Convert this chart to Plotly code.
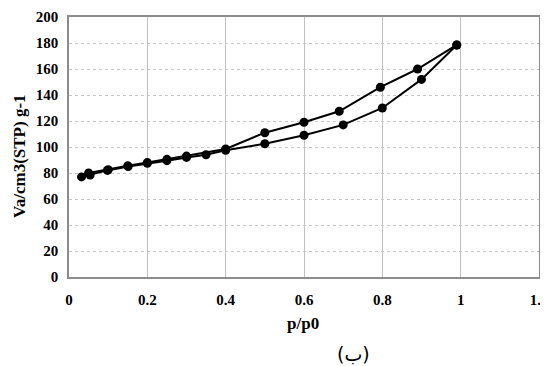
import plotly.graph_objects as go

ads_x = [0.032, 0.054, 0.098, 0.151, 0.2, 0.25, 0.3, 0.35, 0.4, 0.5, 0.6, 0.7, 0.8, 0.9, 0.99]
ads_y = [77, 78.5, 82, 85, 87.5, 89.5, 92, 94, 97.5, 102.5, 109, 117, 130, 152, 178.5]
des_x = [0.99, 0.89, 0.795, 0.69, 0.6, 0.5, 0.4, 0.3, 0.25, 0.2, 0.15, 0.1, 0.05]
des_y = [178.5, 160, 146, 127.5, 119, 111, 98.5, 93, 90.5, 88, 85.5, 82.5, 80]

x_ticks = [0, 0.2, 0.4, 0.6, 0.8, 1, 1.2]
x_tick_labels = ["0", "0.2", "0.4", "0.6", "0.8", "1", "1.2"]
y_ticks = [0, 20, 40, 60, 80, 100, 120, 140, 160, 180, 200]

font_fam = "Liberation Serif, Times New Roman, serif"

# page body has an 8px margin; figure occupies 540x358 starting at (8,8)
W, H = 540, 358
L, R, T, B = 61, 9, 9, 89
pw, ph = W - L - R, H - T - B

def px(xp):  # window pixel x -> paper x
    return (xp - 8 - L) / pw

def py(yp):  # window pixel y -> paper y
    return (H - B - (yp - 8)) / ph

fig = go.Figure()
for xs, ys in [(ads_x, ads_y), (des_x, des_y)]:
    fig.add_trace(go.Scatter(
        x=xs, y=ys, mode="lines+markers",
        line=dict(color="black", width=2),
        marker=dict(color="black", size=9, symbol="circle"),
        showlegend=False, cliponaxis=False))

tickfont = dict(family=font_fam, size=15, color="black", weight="bold")
fig.update_layout(
    width=W, height=H,
    margin=dict(l=L, r=R, t=T, b=B),
    paper_bgcolor="white", plot_bgcolor="white",
    font=dict(family=font_fam, size=15, color="black"),
    xaxis=dict(range=[0, 1.2], tickvals=x_ticks, ticktext=x_tick_labels,
               showgrid=True, gridcolor="#bfbfbf", gridwidth=1,
               showline=True, linecolor="#8c8c8c", linewidth=1.5, mirror=True,
               zeroline=False, ticks="outside", ticklen=8, tickcolor="rgba(0,0,0,0)",
               tickfont=tickfont, automargin=False, ticklabeloverflow="allow"),
    yaxis=dict(range=[0, 200], tickvals=y_ticks,
               showgrid=True, gridcolor="#c8c8c8", gridwidth=1, griddash="dot",
               showline=True, linecolor="#8c8c8c", linewidth=1.5, mirror=True,
               zeroline=False, ticks="outside", ticklen=6, tickcolor="rgba(0,0,0,0)",
               tickfont=tickfont, automargin=False),
    annotations=[
        dict(text="<b>p/p0</b>", x=px(303), y=py(323), xref="paper", yref="paper",
             showarrow=False, xanchor="center", yanchor="middle",
             font=dict(family=font_fam, size=17, color="black")),
        dict(text="<b>Va/cm3(STP) g-1</b>", x=px(19), y=py(156), xref="paper", yref="paper",
             showarrow=False, xanchor="center", yanchor="middle", textangle=-90,
             font=dict(family=font_fam, size=17, color="black")),
        dict(text="(ب)", x=px(353), y=py(354), xref="paper", yref="paper",
             showarrow=False, xanchor="center", yanchor="middle",
             font=dict(family="DejaVu Sans, sans-serif", size=19, color="black")),
    ],
)
fig.write_html("out.html")
